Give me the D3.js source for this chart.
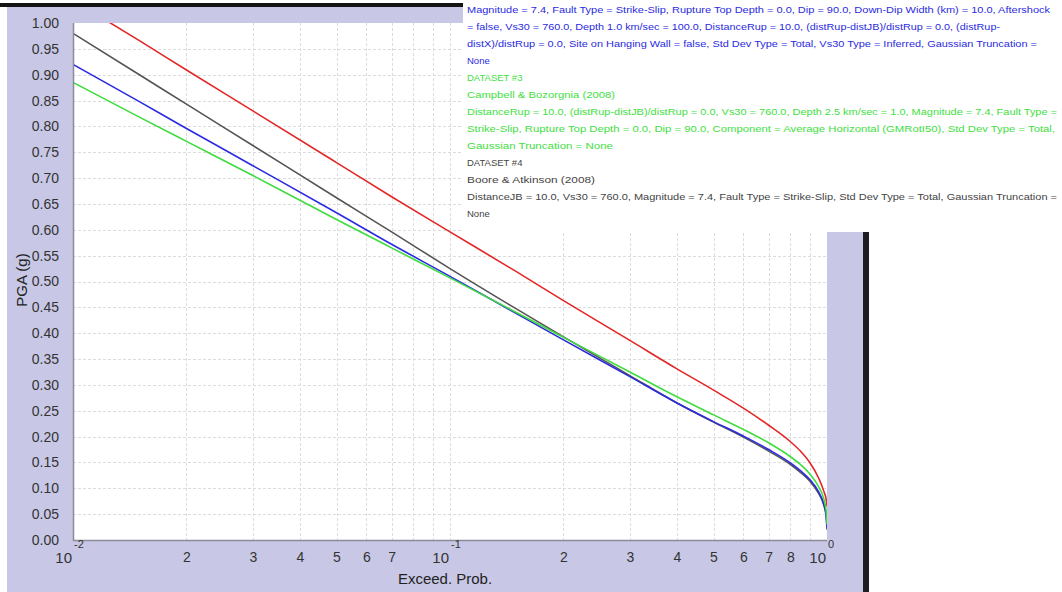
<!DOCTYPE html>
<html>
<head>
<meta charset="utf-8">
<script src="https://cdn.jsdelivr.net/npm/d3@7"></script>
<style>
  html, body { margin: 0; padding: 0; background: #ffffff; }
  svg { display: block; font-family: "Liberation Sans", Arial, sans-serif; }
</style>
</head>
<body>
<svg id="chart" width="1062" height="592"></svg>
<script>
// Exceedance probabilities at which each hazard curve is sampled
const probs = [0.01, 0.015, 0.02, 0.03, 0.05, 0.07, 0.1, 0.15, 0.2, 0.3, 0.4, 0.5, 0.6, 0.7, 0.8, 0.85, 0.9, 0.95, 0.98, 0.995, 1.0];

// PGA (g) for each attenuation relationship
const pgaRed   = [1.044, 0.966, 0.909, 0.830, 0.730, 0.664, 0.596, 0.519, 0.463, 0.386, 0.331, 0.290, 0.255, 0.222, 0.190, 0.172, 0.150, 0.120, 0.095, 0.078, 0.065];
const pgaGray  = [0.980, 0.900, 0.843, 0.763, 0.662, 0.596, 0.525, 0.447, 0.393, 0.318, 0.265, 0.228, 0.199, 0.172, 0.146, 0.131, 0.114, 0.090, 0.068, 0.045, 0.020];
const pgaBlue  = [0.920, 0.848, 0.796, 0.724, 0.633, 0.572, 0.510, 0.438, 0.387, 0.316, 0.265, 0.229, 0.201, 0.175, 0.149, 0.134, 0.117, 0.093, 0.070, 0.048, 0.025];
const pgaGreen = [0.885, 0.818, 0.771, 0.705, 0.620, 0.565, 0.507, 0.440, 0.392, 0.325, 0.277, 0.242, 0.214, 0.188, 0.161, 0.146, 0.128, 0.103, 0.080, 0.056, 0.030];

const seriesColors = ["#e32626", "#555555", "#2b2be0", "#3fdc3f"];
const seriesValues = [pgaRed, pgaGray, pgaBlue, pgaGreen];

// Axis ticks
const yTicks = d3.range(0, 1.0001, 0.05);
const xMinor = [2, 3, 4, 5, 6, 7, 8, 9];
const xLabelled = [0.02, 0.03, 0.04, 0.05, 0.06, 0.07, 0.2, 0.3, 0.4, 0.5, 0.6, 0.7, 0.8];

// Legend / metadata text lines (most are fitted to a set width)
const legendLines = [
  "Magnitude = 7.4, Fault Type = Strike-Slip, Rupture Top Depth = 0.0, Dip = 90.0, Down-Dip Width (km) = 10.0, Aftershock",
  "= false, Vs30 = 760.0, Depth 1.0 km/sec = 100.0, DistanceRup = 10.0, (distRup-distJB)/distRup = 0.0, (distRup-",
  "distX)/distRup = 0.0, Site on Hanging Wall = false, Std Dev Type = Total, Vs30 Type = Inferred, Gaussian Truncation =",
  "None",
  "DATASET #3",
  "Campbell & Bozorgnia (2008)",
  "DistanceRup = 10.0, (distRup-distJB)/distRup = 0.0, Vs30 = 760.0, Depth 2.5 km/sec = 1.0, Magnitude = 7.4, Fault Type =",
  "Strike-Slip, Rupture Top Depth = 0.0, Dip = 90.0, Component = Average Horizontal (GMRotI50), Std Dev Type = Total,",
  "Gaussian Truncation = None",
  "DATASET #4",
  "Boore & Atkinson (2008)",
  "DistanceJB = 10.0, Vs30 = 760.0, Magnitude = 7.4, Fault Type = Strike-Slip, Std Dev Type = Total, Gaussian Truncation =",
  "None"
];
const legendColors = ["#2b2be0", "#2b2be0", "#2b2be0", "#2b2be0",
  "#3fe03f", "#3fe03f", "#3fe03f", "#3fe03f", "#3fe03f",
  "#444444", "#444444", "#444444", "#444444"];
const legendWidths = [583, 533, 570, null, null, 148, 590, 588, 146, null, 128, 590, null];

const svg = d3.select("#chart");
const plot = { left: 73, right: 827, top: 23, bottom: 540 };

const x = d3.scaleLog().domain([0.01, 1]).range([plot.left, plot.right]);
const y = d3.scaleLinear().domain([0, 1]).range([plot.bottom, plot.top]);

// Window frame: lavender panel, dark top rule and right bar
svg.append("rect").attr("x", 7).attr("y", 7).attr("width", 856).attr("height", 585).attr("fill", "#c8c8e6");
svg.append("rect").attr("x", 0).attr("y", 3).attr("width", 465).attr("height", 4).attr("fill", "#141414");
svg.append("rect").attr("x", 863).attr("y", 232).attr("width", 6).attr("height", 360).attr("fill", "#1e1e22");

// Plot background
svg.append("rect").attr("x", plot.left).attr("y", plot.top)
  .attr("width", plot.right - plot.left).attr("height", plot.bottom - plot.top)
  .attr("fill", "#ffffff");

// Grid
const grid = svg.append("g").attr("stroke", "#dcdcdc").attr("stroke-width", 1).attr("stroke-dasharray", "3,2");
grid.selectAll("line.h").data(yTicks.slice(1, -1)).join("line")
  .attr("x1", plot.left).attr("x2", plot.right)
  .attr("y1", d => Math.round(y(d)) + 0.5).attr("y2", d => Math.round(y(d)) + 0.5);
const xGrid = [];
[0.01, 0.1].forEach(dec => xMinor.forEach(m => xGrid.push(dec * m)));
xGrid.push(0.1);
grid.selectAll("line.v").data(xGrid).join("line")
  .attr("y1", plot.top).attr("y2", plot.bottom)
  .attr("x1", d => Math.round(x(d)) + 0.5).attr("x2", d => Math.round(x(d)) + 0.5);

// Curves
const line = d3.line().x((d, i) => x(probs[i])).y(d => y(d)).curve(d3.curveMonotoneX);
svg.append("clipPath").attr("id", "clip").append("rect")
  .attr("x", plot.left).attr("y", plot.top).attr("width", plot.right - plot.left).attr("height", plot.bottom - plot.top);
const curves = svg.append("g").attr("clip-path", "url(#clip)");
seriesValues.forEach((vals, k) => {
  curves.append("path").datum(vals)
    .attr("d", line).attr("fill", "none")
    .attr("stroke", seriesColors[k]).attr("stroke-width", 1.6);
});

// Plot border
svg.append("path")
  .attr("d", `M${plot.left + 0.5},${plot.top} V${plot.bottom + 0.5} H${plot.right}`)
  .attr("fill", "none").attr("stroke", "#8a8a9a").attr("stroke-width", 1.5);

// Y axis labels
const yAxis = d3.axisLeft(y).tickValues(yTicks).tickFormat(d3.format(".2f")).tickSize(0).tickPadding(14);
const gy = svg.append("g").attr("transform", `translate(${plot.left},0)`).call(yAxis);
gy.select(".domain").remove();
gy.selectAll("text").attr("fill", "#333").style("font-size", "14px").attr("font-family", "Liberation Sans, Arial, sans-serif");

// X axis labels (minor digits and powers of ten)
const xAxis = d3.axisBottom(x).tickValues(xLabelled)
  .tickFormat(d => String(Math.round(d / (d < 0.1 ? 0.01 : 0.1)))).tickSize(0).tickPadding(12);
const gx = svg.append("g").attr("transform", `translate(0,${plot.bottom})`).call(xAxis);
gx.select(".domain").remove();
gx.selectAll("text").attr("fill", "#333").style("font-size", "14px").attr("font-family", "Liberation Sans, Arial, sans-serif");

const powers = [{ v: 0.01, e: "-2" }, { v: 0.1, e: "-1" }, { v: 1, e: "0" }];
powers.forEach(p => {
  svg.append("text").attr("x", x(p.v) - 1).attr("y", 563).attr("text-anchor", "end")
    .attr("fill", "#333").style("font-size", "15px").text("10");
  svg.append("text").attr("x", x(p.v) + 1).attr("y", 548).attr("text-anchor", "start")
    .attr("fill", "#333").style("font-size", "11px").text(p.e);
});

// Axis titles
svg.append("text").attr("x", 445).attr("y", 584).attr("text-anchor", "middle")
  .attr("fill", "#222").style("font-size", "15px").text("Exceed. Prob.");
svg.append("text").attr("transform", "translate(27,280) rotate(-90)").attr("text-anchor", "middle")
  .attr("fill", "#222").style("font-size", "15px").text("PGA (g)");

// Metadata panel
svg.append("rect").attr("x", 463).attr("y", 0).attr("width", 599).attr("height", 232).attr("fill", "#ffffff");
const leg = svg.append("g");
legendLines.forEach((t, i) => {
  const txt = leg.append("text").attr("x", 467).attr("y", 13 + i * 17.0)
    .attr("fill", legendColors[i]).style("font-size", "9.5px")
    .text(t);
  if (legendWidths[i]) {
    txt.attr("textLength", legendWidths[i]).attr("lengthAdjust", "spacingAndGlyphs");
  }
});
</script>
</body>
</html>
